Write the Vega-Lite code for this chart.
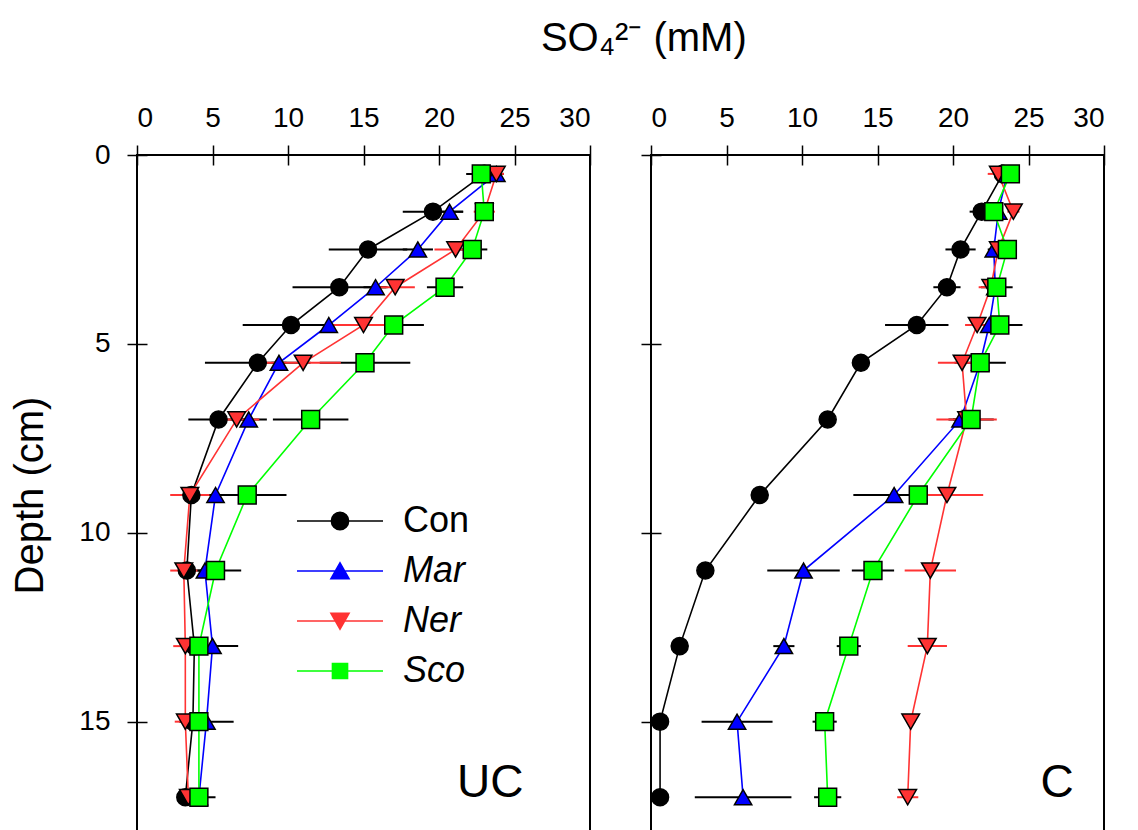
{
  "$schema": "https://vega.github.io/schema/vega-lite/v6.json",
  "padding": {"left": 9, "top": 19, "right": 0, "bottom": 0},
  "background": "white",
  "title": {"text": "SO₄²⁻ (mM)", "fontSize": 40, "fontWeight": "normal", "font": "Liberation Sans", "anchor": "middle", "offset": 44, "dx": 86, "color": "black"},
  "spacing": 61,
  "bounds": "flush",
  "datasets": {
    "so4": [
      {"p":"UC","trt":"Con","depth":0.5,"so4":23.0,"err":1.2},
      {"p":"UC","trt":"Con","depth":1.5,"so4":19.6,"err":2.0},
      {"p":"UC","trt":"Con","depth":2.5,"so4":15.3,"err":2.6},
      {"p":"UC","trt":"Con","depth":3.5,"so4":13.4,"err":3.1},
      {"p":"UC","trt":"Con","depth":4.5,"so4":10.2,"err":3.2},
      {"p":"UC","trt":"Con","depth":5.5,"so4":8.0,"err":3.5},
      {"p":"UC","trt":"Con","depth":7,"so4":5.4,"err":2.0},
      {"p":"UC","trt":"Con","depth":9,"so4":3.6,"err":0.5},
      {"p":"UC","trt":"Con","depth":11,"so4":3.3,"err":0.3},
      {"p":"UC","trt":"Con","depth":13,"so4":3.8,"err":0.6},
      {"p":"UC","trt":"Con","depth":15,"so4":3.7,"err":0.5},
      {"p":"UC","trt":"Con","depth":17,"so4":3.2,"err":0.4},
      {"p":"UC","trt":"Mar","depth":0.5,"so4":23.8,"err":0.5},
      {"p":"UC","trt":"Mar","depth":1.5,"so4":20.7,"err":0.9},
      {"p":"UC","trt":"Mar","depth":2.5,"so4":18.6,"err":1.0},
      {"p":"UC","trt":"Mar","depth":3.5,"so4":15.8,"err":0.8},
      {"p":"UC","trt":"Mar","depth":4.5,"so4":12.7,"err":0.8},
      {"p":"UC","trt":"Mar","depth":5.5,"so4":9.4,"err":0.5},
      {"p":"UC","trt":"Mar","depth":7,"so4":7.4,"err":1.2},
      {"p":"UC","trt":"Mar","depth":9,"so4":5.2,"err":0.8},
      {"p":"UC","trt":"Mar","depth":11,"so4":4.5,"err":0.5},
      {"p":"UC","trt":"Mar","depth":13,"so4":5.0,"err":1.7},
      {"p":"UC","trt":"Mar","depth":15,"so4":4.6,"err":1.8},
      {"p":"UC","trt":"Mar","depth":17,"so4":4.1,"err":0.5},
      {"p":"UC","trt":"Ner","depth":0.5,"so4":23.8,"err":0.5},
      {"p":"UC","trt":"Ner","depth":1.5,"so4":23.0,"err":0.7},
      {"p":"UC","trt":"Ner","depth":2.5,"so4":21.1,"err":1.4},
      {"p":"UC","trt":"Ner","depth":3.5,"so4":17.1,"err":1.3},
      {"p":"UC","trt":"Ner","depth":4.5,"so4":15.0,"err":2.2},
      {"p":"UC","trt":"Ner","depth":5.5,"so4":11.0,"err":2.5},
      {"p":"UC","trt":"Ner","depth":7,"so4":6.6,"err":1.5},
      {"p":"UC","trt":"Ner","depth":9,"so4":3.5,"err":1.3},
      {"p":"UC","trt":"Ner","depth":11,"so4":3.1,"err":0.9},
      {"p":"UC","trt":"Ner","depth":13,"so4":3.2,"err":0.8},
      {"p":"UC","trt":"Ner","depth":15,"so4":3.2,"err":0.7},
      {"p":"UC","trt":"Ner","depth":17,"so4":3.4,"err":0.4},
      {"p":"UC","trt":"Sco","depth":0.5,"so4":22.8,"err":0.3},
      {"p":"UC","trt":"Sco","depth":1.5,"so4":23.0,"err":0.4},
      {"p":"UC","trt":"Sco","depth":2.5,"so4":22.2,"err":1.0},
      {"p":"UC","trt":"Sco","depth":3.5,"so4":20.4,"err":1.2},
      {"p":"UC","trt":"Sco","depth":4.5,"so4":17.0,"err":2.0},
      {"p":"UC","trt":"Sco","depth":5.5,"so4":15.1,"err":3.0},
      {"p":"UC","trt":"Sco","depth":7,"so4":11.5,"err":2.5},
      {"p":"UC","trt":"Sco","depth":9,"so4":7.3,"err":2.6},
      {"p":"UC","trt":"Sco","depth":11,"so4":5.2,"err":1.7},
      {"p":"UC","trt":"Sco","depth":13,"so4":4.1,"err":0.4},
      {"p":"UC","trt":"Sco","depth":15,"so4":4.1,"err":0.5},
      {"p":"UC","trt":"Sco","depth":17,"so4":4.1,"err":1.1},
      {"p":"C","trt":"Con","depth":0.5,"so4":23.3,"err":0.3},
      {"p":"C","trt":"Con","depth":1.5,"so4":21.9,"err":0.8},
      {"p":"C","trt":"Con","depth":2.5,"so4":20.5,"err":1.0},
      {"p":"C","trt":"Con","depth":3.5,"so4":19.6,"err":0.9},
      {"p":"C","trt":"Con","depth":4.5,"so4":17.6,"err":2.1},
      {"p":"C","trt":"Con","depth":5.5,"so4":13.9,"err":0.3},
      {"p":"C","trt":"Con","depth":7,"so4":11.7,"err":0.3},
      {"p":"C","trt":"Con","depth":9,"so4":7.2,"err":0.2},
      {"p":"C","trt":"Con","depth":11,"so4":3.6,"err":0.2},
      {"p":"C","trt":"Con","depth":13,"so4":1.9,"err":0.2},
      {"p":"C","trt":"Con","depth":15,"so4":0.6,"err":0.2},
      {"p":"C","trt":"Con","depth":17,"so4":0.6,"err":0.2},
      {"p":"C","trt":"Mar","depth":0.5,"so4":23.6,"err":0.3},
      {"p":"C","trt":"Mar","depth":1.5,"so4":23.0,"err":0.3},
      {"p":"C","trt":"Mar","depth":2.5,"so4":22.7,"err":0.4},
      {"p":"C","trt":"Mar","depth":3.5,"so4":22.8,"err":0.5},
      {"p":"C","trt":"Mar","depth":4.5,"so4":22.4,"err":0.5},
      {"p":"C","trt":"Mar","depth":5.5,"so4":21.8,"err":0.5},
      {"p":"C","trt":"Mar","depth":7,"so4":20.5,"err":0.5},
      {"p":"C","trt":"Mar","depth":9,"so4":16.1,"err":2.7},
      {"p":"C","trt":"Mar","depth":11,"so4":10.1,"err":2.4},
      {"p":"C","trt":"Mar","depth":13,"so4":8.8,"err":0.7},
      {"p":"C","trt":"Mar","depth":15,"so4":5.7,"err":2.35},
      {"p":"C","trt":"Mar","depth":17,"so4":6.1,"err":3.2},
      {"p":"C","trt":"Ner","depth":0.5,"so4":23.0,"err":0.7},
      {"p":"C","trt":"Ner","depth":1.5,"so4":24.0,"err":0.4},
      {"p":"C","trt":"Ner","depth":2.5,"so4":23.0,"err":0.4},
      {"p":"C","trt":"Ner","depth":3.5,"so4":22.5,"err":0.8},
      {"p":"C","trt":"Ner","depth":4.5,"so4":21.6,"err":0.8},
      {"p":"C","trt":"Ner","depth":5.5,"so4":20.6,"err":1.6},
      {"p":"C","trt":"Ner","depth":7,"so4":20.9,"err":2.0},
      {"p":"C","trt":"Ner","depth":9,"so4":19.6,"err":2.4},
      {"p":"C","trt":"Ner","depth":11,"so4":18.5,"err":1.7},
      {"p":"C","trt":"Ner","depth":13,"so4":18.3,"err":1.3},
      {"p":"C","trt":"Ner","depth":15,"so4":17.2,"err":0.3},
      {"p":"C","trt":"Ner","depth":17,"so4":17.0,"err":0.7},
      {"p":"C","trt":"Sco","depth":0.5,"so4":23.8,"err":0.3},
      {"p":"C","trt":"Sco","depth":1.5,"so4":22.7,"err":0.4},
      {"p":"C","trt":"Sco","depth":2.5,"so4":23.6,"err":0.6},
      {"p":"C","trt":"Sco","depth":3.5,"so4":22.9,"err":1.05},
      {"p":"C","trt":"Sco","depth":4.5,"so4":23.1,"err":1.5},
      {"p":"C","trt":"Sco","depth":5.5,"so4":21.8,"err":1.7},
      {"p":"C","trt":"Sco","depth":7,"so4":21.2,"err":1.5},
      {"p":"C","trt":"Sco","depth":9,"so4":17.7,"err":0.8},
      {"p":"C","trt":"Sco","depth":11,"so4":14.7,"err":1.4},
      {"p":"C","trt":"Sco","depth":13,"so4":13.1,"err":0.8},
      {"p":"C","trt":"Sco","depth":15,"so4":11.5,"err":0.8},
      {"p":"C","trt":"Sco","depth":17,"so4":11.7,"err":0.9}
    ],
    "labels": [
      {"p":"UC","lab":"UC","so4":21.2,"depth":17.0},
      {"p":"C","lab":"C","so4":25.8,"depth":17.0}
    ]
  },
  "hconcat": [
    {
      "width": 453,
      "height": 680,
      "encoding": {
        "x": {"field": "so4", "type": "quantitative", "scale": {"domain": [0, 30], "nice": false, "zero": false},
              "axis": {"orient": "top", "values": [0,5,10,15,20,25,30], "title": null, "grid": false, "domain": false, "offset": -10, "tickSize": 20, "tickWidth": 1.5, "tickColor": "black", "labelFontSize": 28, "labelPadding": 13, "labelColor": "black", "labelFont": "Liberation Sans"}},
        "y": {"field": "depth", "type": "quantitative", "scale": {"domain": [0, 18], "nice": false, "zero": false, "reverse": true},
              "axis": {"values": [0,5,10,15], "title": "Depth (cm)", "titleFontSize": 40, "titleFontWeight": "normal", "titleColor": "black", "titleFont": "Liberation Sans", "titlePadding": 28, "grid": false, "domain": false, "offset": -10, "tickSize": 20, "tickWidth": 1.5, "tickColor": "black", "labelFontSize": 28, "labelPadding": 17, "labelColor": "black", "labelFont": "Liberation Sans"}}
      },
      "layer": [
        {
          "data": {"name": "so4"},
          "transform": [{"filter": "datum.p === 'UC' && datum.trt !== 'Ner'"}],
          "mark": {"type": "errorbar", "color": "black", "thickness": 2},
          "encoding": {"xError": {"field": "err"}}
        },
        {
          "data": {"name": "so4"},
          "transform": [{"filter": "datum.p === 'UC' && datum.trt === 'Ner'"}],
          "mark": {"type": "errorbar", "color": "#ff3333", "thickness": 2},
          "encoding": {"xError": {"field": "err"}}
        },
        {
          "data": {"name": "so4"},
          "transform": [{"filter": "datum.p === 'UC'"}],
          "mark": {"type": "line", "strokeWidth": 1.6},
          "encoding": {
            "stroke": {"field": "trt", "type": "nominal",
              "scale": {"domain": ["Con","Mar","Ner","Sco"], "range": ["black","#0000ff","#ff3333","#00ff00"]},
              "legend": {"orient": "none", "legendX": 159, "legendY": 341, "title": null, "symbolType": "stroke", "symbolSize": 7396, "symbolStrokeWidth": 1.6, "labelFontSize": 36, "labelFont": "Liberation Sans", "labelColor": "black", "labelOffset": 19, "clipHeight": 50, "rowPadding": 0, "padding": 0,
                "encode": {
                  "labels": {"update": {"fontStyle": {"signal": "datum.label === 'Con' ? 'normal' : 'italic'"}}},
                  "symbols": {"update": {
                    "shape": {"signal": "datum.value === 'Con' ? 'M-1,0H1M0.2,0A0.2,0.2,0,1,1,-0.2,0A0.2,0.2,0,1,1,0.2,0Z' : datum.value === 'Mar' ? 'M-1,0H1M0,-0.19L-0.21,0.18L0.21,0.18Z' : datum.value === 'Ner' ? 'M-1,0H1M0,0.19L-0.21,-0.18L0.21,-0.18Z' : 'M-1,0H1M-0.175,-0.175H0.175V0.175H-0.175Z'"},
                    "fill": {"signal": "datum.value === 'Con' ? 'black' : datum.value === 'Mar' ? '#0000ff' : datum.value === 'Ner' ? '#ff3333' : '#00ff00'"},
                    "fillOpacity": {"value": 1}
                  }}
                }}},
            "order": {"field": "depth", "type": "quantitative"}
          }
        },
        {
          "data": {"name": "so4"},
          "transform": [{"filter": "datum.p === 'UC'"}],
          "mark": {"type": "point", "filled": true, "stroke": "black", "strokeWidth": 1.5, "opacity": 1},
          "encoding": {
            "shape": {"field": "trt", "type": "nominal", "scale": {"range": ["circle","triangle-up","triangle-down","square"]}, "legend": null},
            "fill": {"field": "trt", "type": "nominal", "scale": {"range": ["black","#0000ff","#ff3333","#00ff00"]}, "legend": null},
            "size": {"field": "trt", "type": "nominal", "scale": {"range": [290, 320, 320, 230]}, "legend": null}
          }
        },
        {
          "data": {"name": "labels"},
          "transform": [{"filter": "datum.p === 'UC'"}],
          "mark": {"type": "text", "align": "left", "baseline": "alphabetic", "fontSize": 46, "font": "Liberation Sans", "color": "black"},
          "encoding": {"text": {"field": "lab"}}
        }
      ]
    },
    {
      "width": 453,
      "height": 680,
      "encoding": {
        "x": {"field": "so4", "type": "quantitative", "scale": {"domain": [0, 30], "nice": false, "zero": false},
              "axis": {"orient": "top", "values": [0,5,10,15,20,25,30], "title": null, "grid": false, "domain": false, "offset": -10, "tickSize": 20, "tickWidth": 1.5, "tickColor": "black", "labelFontSize": 28, "labelPadding": 13, "labelColor": "black", "labelFont": "Liberation Sans"}},
        "y": {"field": "depth", "type": "quantitative", "scale": {"domain": [0, 18], "nice": false, "zero": false, "reverse": true},
              "axis": {"values": [0,5,10,15], "title": null, "labels": false, "grid": false, "domain": false, "offset": -10, "tickSize": 20, "tickWidth": 1.5, "tickColor": "black"}}
      },
      "layer": [
        {
          "data": {"name": "so4"},
          "transform": [{"filter": "datum.p === 'C' && datum.trt !== 'Ner'"}],
          "mark": {"type": "errorbar", "color": "black", "thickness": 2},
          "encoding": {"xError": {"field": "err"}}
        },
        {
          "data": {"name": "so4"},
          "transform": [{"filter": "datum.p === 'C' && datum.trt === 'Ner'"}],
          "mark": {"type": "errorbar", "color": "#ff3333", "thickness": 2},
          "encoding": {"xError": {"field": "err"}}
        },
        {
          "data": {"name": "so4"},
          "transform": [{"filter": "datum.p === 'C'"}],
          "mark": {"type": "line", "strokeWidth": 1.6},
          "encoding": {
            "stroke": {"field": "trt", "type": "nominal",
              "scale": {"domain": ["Con","Mar","Ner","Sco"], "range": ["black","#0000ff","#ff3333","#00ff00"]}, "legend": null},
            "order": {"field": "depth", "type": "quantitative"}
          }
        },
        {
          "data": {"name": "so4"},
          "transform": [{"filter": "datum.p === 'C'"}],
          "mark": {"type": "point", "filled": true, "stroke": "black", "strokeWidth": 1.5, "opacity": 1},
          "encoding": {
            "shape": {"field": "trt", "type": "nominal", "scale": {"range": ["circle","triangle-up","triangle-down","square"]}, "legend": null},
            "fill": {"field": "trt", "type": "nominal", "scale": {"range": ["black","#0000ff","#ff3333","#00ff00"]}, "legend": null},
            "size": {"field": "trt", "type": "nominal", "scale": {"range": [290, 320, 320, 230]}, "legend": null}
          }
        },
        {
          "data": {"name": "labels"},
          "transform": [{"filter": "datum.p === 'C'"}],
          "mark": {"type": "text", "align": "left", "baseline": "alphabetic", "fontSize": 46, "font": "Liberation Sans", "color": "black"},
          "encoding": {"text": {"field": "lab"}}
        }
      ]
    }
  ],
  "config": {
    "font": "Liberation Sans",
    "view": {"stroke": "black", "strokeWidth": 2}
  }
}
